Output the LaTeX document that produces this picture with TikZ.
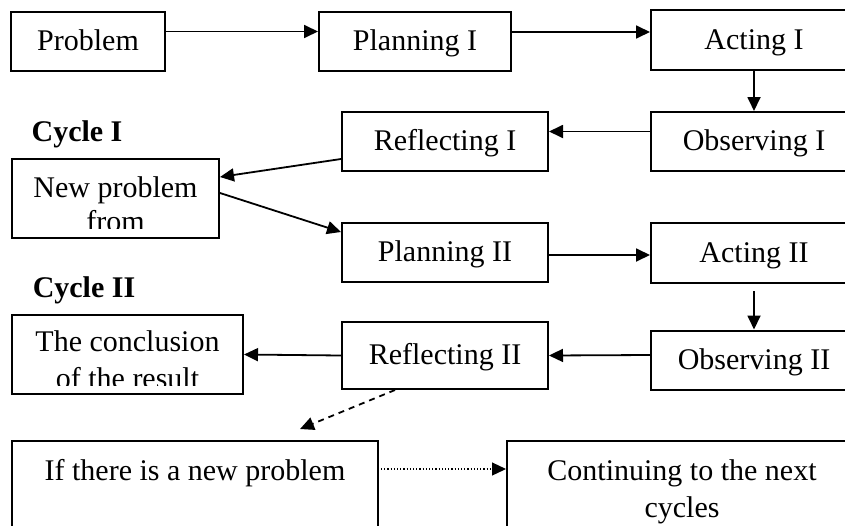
\documentclass[tikz,border=0pt]{standalone}
\usepackage{fontspec}
\setmainfont{Liberation Serif}
\usetikzlibrary{arrows.meta}
\begin{document}
\begin{tikzpicture}[x=1pt,y=-1pt,
  box/.style={draw, line width=2pt, inner sep=0pt, align=center, text height=25pt, text depth=7pt},
  txt/.style={inner sep=0pt, anchor=base},
  conn/.style={line width=1.8pt, -{Triangle[length=14pt,width=13pt]}},
  every node/.style={font=\fontsize{30}{37}\selectfont}]
\useasboundingbox (0,0) rectangle (845,525);
\clip (0,0) rectangle (845,525);
% top row
\node[box, minimum width=154pt, minimum height=59pt] (prob) at (88,41.5) {Problem};
\node[box, minimum width=192pt, minimum height=59pt] (plan1) at (415,41.5) {Planning I};
\node[box, minimum width=206pt, minimum height=60pt] (act1) at (754,40) {Acting I};
% second row
\node[box, minimum width=206pt, minimum height=59pt] (obs1) at (754,141.5) {Observing I};
\node[box, minimum width=206pt, minimum height=59pt] (refl1) at (445,141.5) {Reflecting I};
\node[txt, font=\fontsize{30}{37}\selectfont\bfseries] (cyc1) at (77,141) {Cycle I};
% new problem
\node[box, minimum width=207pt, minimum height=79pt] (newp) at (115.5,198.5) {};
\begin{scope}
\clip (12,160) rectangle (219,228);
\node[txt] (newpa) at (115.5,197) {New problem};
\node[txt] (newpb) at (115.5,231) {from};
\end{scope}
% third row
\node[box, minimum width=206pt, minimum height=59pt] (plan2) at (445,252.5) {Planning II};
\node[box, minimum width=206pt, minimum height=60pt] (act2) at (754,253) {Acting II};
\node[txt, font=\fontsize{30}{37}\selectfont\bfseries] (cyc2) at (84,297) {Cycle II};
% fourth row
\node[box, minimum width=206pt, minimum height=59pt] (obs2) at (754,360) {Observing II};
\node[box, minimum width=206pt, minimum height=67pt] (refl2) at (445,355.5) {Reflecting II};
\node[box, minimum width=231pt, minimum height=79pt] (concl) at (127.5,354.5) {};
\begin{scope}
\clip (12,316) rectangle (243,385);
\node[txt] (concla) at (127.5,351) {The conclusion};
\node[txt] (conclb) at (127.5,388) {of the result};
\end{scope}
% bottom row
\node[box, minimum width=366pt, minimum height=99pt] (ifnew) at (195,490.5) {};
\node[txt] (ifnewt) at (195,480) {If there is a new problem};
\node[box, minimum width=350pt, minimum height=99pt] (cont) at (682,490.5) {};
\node[txt] (conta) at (682,480) {Continuing to the next};
\node[txt] (contb) at (682,517) {cycles};
% connectors
\draw[conn] ([yshift=10pt]prob.east) -- ([yshift=10pt]plan1.west);
\draw[conn] ([yshift=9.5pt]plan1.east) -- ([yshift=8pt]act1.west);
\draw[conn] (act1.south) -- (obs1.north);
\draw[conn] ([yshift=10pt]obs1.west) -- ([yshift=10pt]refl1.east);
\draw[conn] ([yshift=-17.5pt]refl1.west) -- ([yshift=21.5pt]newp.east);
\draw[conn] ([yshift=5.5pt]newp.east) -- ([yshift=20.5pt]plan2.west);
\draw[conn] ([yshift=-2.5pt]plan2.east) -- ([yshift=-2pt]act2.west);
\draw[conn] ([yshift=-7pt]act2.south) -- (obs2.north);
\draw[conn] ([yshift=5pt]obs2.west) -- (refl2.east);
\draw[conn] (refl2.west) -- (concl.east);
\draw[conn, dash pattern=on 6pt off 5pt] ([xshift=-50pt]refl2.south) -- ([xshift=105pt,yshift=11pt]ifnew.north);
\draw[conn, line width=1.2pt, dotted] ([xshift=2pt,yshift=-29pt]ifnew.north east) -- ([yshift=-29pt]cont.north west);
\end{tikzpicture}
\end{document}
